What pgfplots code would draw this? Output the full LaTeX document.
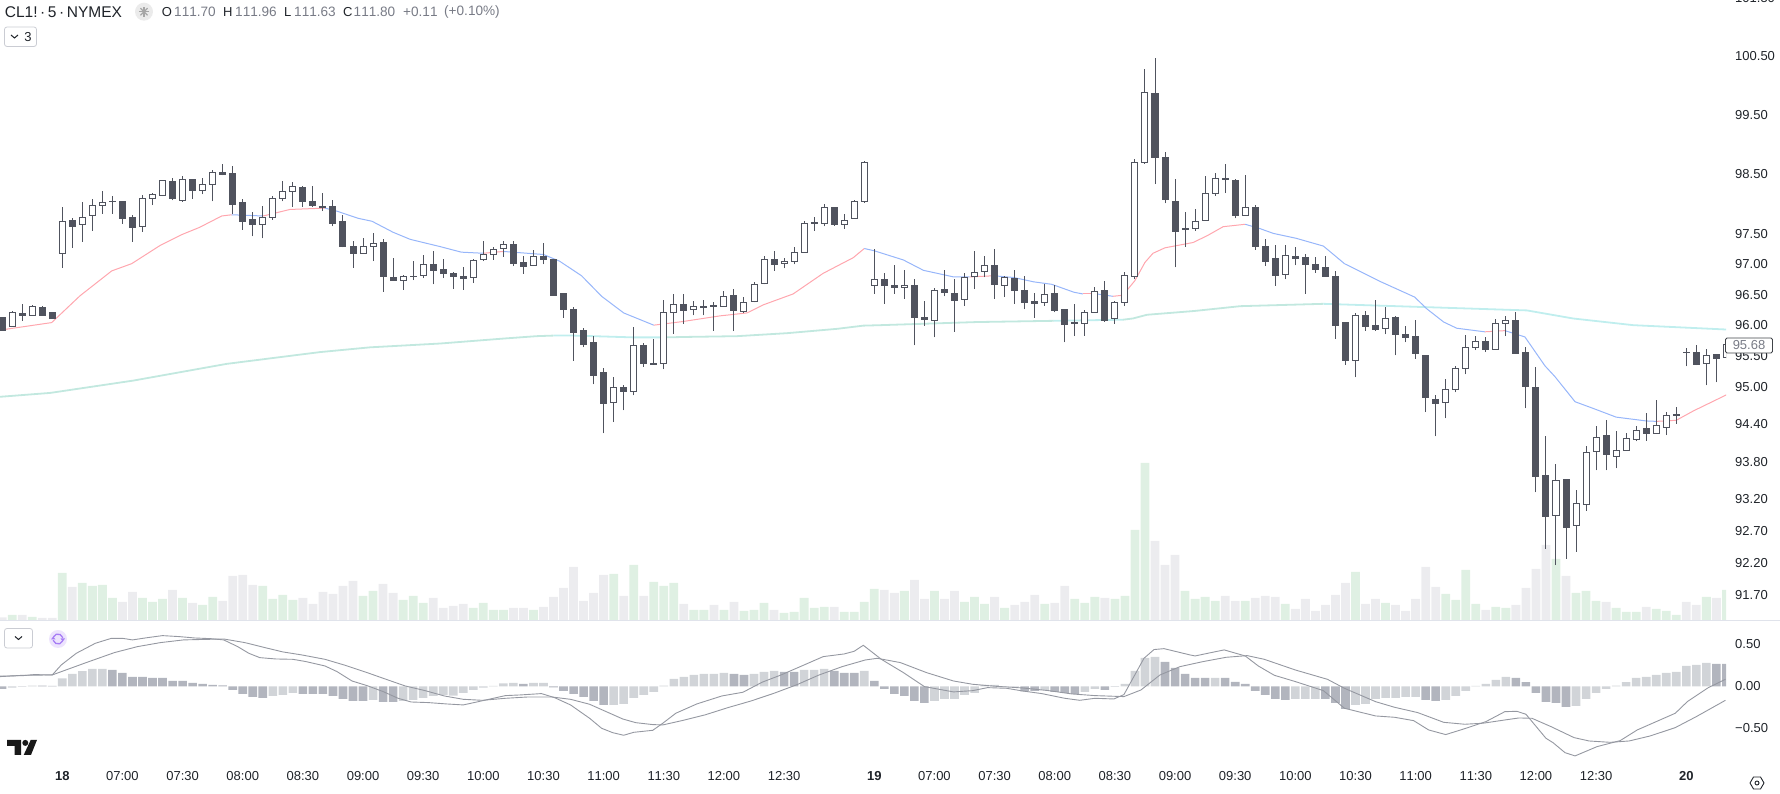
\documentclass[border=0pt]{standalone}
\usepackage{fontspec}
\setmainfont[Kerning=Off]{Liberation Sans}
\usepackage{pgfplots}
\usepackage{pgfplotstable}
\pgfplotsset{compat=1.18}

\definecolor{candle}{HTML}{50535E}
\definecolor{volup}{HTML}{DFF0E3}
\definecolor{voldown}{HTML}{ECECEF}
\definecolor{histlight}{HTML}{D1D4D8}
\definecolor{histdark}{HTML}{B2B5BE}
\definecolor{macdline}{HTML}{9598A1}
\definecolor{emared}{HTML}{FFA6AE}
\definecolor{emablue}{HTML}{97B6FA}
\definecolor{mamint}{HTML}{C2E8DF}
\definecolor{macyan}{HTML}{C0EEEE}
\definecolor{txt}{HTML}{1F2329}
\definecolor{txtgrey}{HTML}{787B86}
\definecolor{sep}{HTML}{E0E3EB}
\definecolor{purple1}{HTML}{EDE4FD}
\definecolor{purple2}{HTML}{A67CF5}

% bar index, open, high, low, close
\pgfplotstableread{
i o h l c
-6 96.12 96.14 95.91 95.92
-5 95.97 96.23 95.97 96.20
-4 96.19 96.35 96.07 96.16
-3 96.16 96.33 96.16 96.30
-2 96.29 96.31 96.16 96.16
-1 96.20 96.20 96.10 96.10
0 97.18 97.94 96.94 97.70
1 97.72 97.77 97.27 97.63
2 97.65 98.03 97.37 97.78
3 97.80 98.08 97.55 97.97
4 97.97 98.22 97.84 98.02
5 98.04 98.14 97.84 98.03
6 98.04 98.05 97.67 97.76
7 97.77 97.82 97.37 97.61
8 97.63 98.15 97.54 98.10
9 98.10 98.19 97.98 98.15
10 98.14 98.39 98.13 98.39
11 98.38 98.43 98.06 98.09
12 98.06 98.47 98.03 98.41
13 98.41 98.42 98.09 98.23
14 98.23 98.43 98.16 98.32
15 98.32 98.56 98.04 98.52
16 98.53 98.67 98.48 98.50
17 98.51 98.63 97.84 97.99
18 98.02 98.09 97.57 97.70
19 97.74 97.86 97.46 97.66
20 97.65 97.97 97.43 97.78
21 97.78 98.13 97.74 98.10
22 98.09 98.38 98.04 98.20
23 98.20 98.36 97.96 98.29
24 98.27 98.30 97.96 98.04
25 98.04 98.29 97.95 97.97
26 97.95 98.19 97.88 97.94
27 97.96 98.06 97.63 97.68
28 97.71 97.82 97.28 97.30
29 97.30 97.39 96.94 97.17
30 97.17 97.43 97.17 97.29
31 97.30 97.51 97.05 97.34
32 97.36 97.41 96.55 96.79
33 96.78 97.10 96.73 96.73
34 96.74 96.83 96.58 96.79
35 96.80 97.05 96.74 96.79
36 96.81 97.15 96.77 96.99
37 96.99 97.21 96.67 96.89
38 96.92 97.08 96.77 96.84
39 96.85 96.87 96.59 96.79
40 96.80 96.95 96.58 96.77
41 96.78 97.08 96.69 97.06
42 97.08 97.39 97.05 97.16
43 97.16 97.29 97.07 97.25
44 97.26 97.38 97.12 97.32
45 97.33 97.38 96.97 97.02
46 97.03 97.13 96.84 96.96
47 96.98 97.24 96.98 97.13
48 97.13 97.36 97.00 97.07
49 97.08 97.08 96.48 96.48
50 96.51 96.52 96.12 96.26
51 96.26 96.30 95.42 95.88
52 95.92 95.95 95.64 95.69
53 95.71 95.82 95.04 95.18
54 95.24 95.30 94.25 94.73
55 94.74 95.15 94.43 94.98
56 94.98 95.03 94.62 94.93
57 94.92 95.97 94.86 95.66
58 95.66 95.71 95.32 95.37
59 95.37 95.78 95.36 95.36
60 95.37 96.41 95.28 96.21
61 96.21 96.51 95.86 96.34
62 96.33 96.51 96.02 96.24
63 96.25 96.39 96.16 96.30
64 96.30 96.41 96.16 96.28
65 96.32 96.37 95.91 96.31
66 96.31 96.56 96.31 96.47
67 96.49 96.59 95.90 96.24
68 96.23 96.46 96.20 96.38
69 96.39 96.70 96.37 96.67
70 96.69 97.13 96.67 97.08
71 97.08 97.22 96.89 96.99
72 97.01 97.11 96.93 97.04
73 97.04 97.28 97.00 97.20
74 97.20 97.71 97.20 97.68
75 97.69 97.78 97.55 97.68
76 97.67 98.00 97.63 97.94
77 97.94 97.96 97.64 97.66
78 97.66 97.84 97.59 97.73
79 97.75 98.06 97.75 98.03
80 98.03 98.72 98.02 98.70
81 96.66 97.26 96.51 96.75
82 96.75 96.86 96.35 96.66
83 96.66 96.98 96.51 96.62
84 96.61 96.90 96.43 96.65
85 96.66 96.75 95.67 96.12
86 96.13 96.40 95.99 96.09
87 96.08 96.60 95.80 96.57
88 96.58 96.90 96.47 96.53
89 96.52 96.75 95.89 96.40
90 96.42 96.85 96.31 96.78
91 96.79 97.22 96.59 96.86
92 96.88 97.13 96.78 96.98
93 96.98 97.25 96.43 96.67
94 96.65 96.81 96.46 96.78
95 96.77 96.90 96.35 96.56
96 96.57 96.80 96.26 96.37
97 96.39 96.53 96.12 96.35
98 96.38 96.67 96.32 96.50
99 96.52 96.66 96.21 96.24
100 96.25 96.25 95.72 96.01
101 96.04 96.35 95.82 96.03
102 96.03 96.25 95.83 96.20
103 96.20 96.62 96.20 96.55
104 96.56 96.73 96.06 96.07
105 96.10 96.39 96.02 96.38
106 96.38 96.88 96.31 96.81
107 96.79 98.75 96.75 98.70
108 98.70 100.28 98.67 99.87
109 99.85 100.46 98.33 98.78
110 98.77 98.87 98.01 98.07
111 98.05 98.42 96.95 97.54
112 97.59 97.86 97.29 97.57
113 97.59 97.91 97.55 97.70
114 97.72 98.46 97.72 98.17
115 98.18 98.52 98.14 98.42
116 98.42 98.67 98.18 98.40
117 98.39 98.41 97.76 97.81
118 97.80 98.48 97.80 97.94
119 97.94 97.98 97.24 97.29
120 97.30 97.42 96.97 97.04
121 97.10 97.32 96.65 96.81
122 96.83 97.32 96.75 97.14
123 97.13 97.28 96.98 97.10
124 97.11 97.17 96.51 96.99
125 97.00 97.12 96.86 96.92
126 96.94 97.13 96.80 96.80
127 96.80 96.89 95.78 96.00
128 96.04 96.05 95.36 95.42
129 95.43 96.20 95.15 96.16
130 96.16 96.23 95.91 95.98
131 96.00 96.41 95.90 95.93
132 95.94 96.30 95.85 96.11
133 96.13 96.15 95.51 95.85
134 95.85 95.98 95.72 95.80
135 95.81 96.09 95.45 95.53
136 95.50 95.51 94.59 94.82
137 94.80 94.87 94.20 94.73
138 94.74 95.13 94.49 94.95
139 94.95 95.34 94.91 95.29
140 95.29 95.84 95.20 95.63
141 95.63 95.83 95.59 95.73
142 95.73 95.81 95.56 95.60
143 95.60 96.10 95.60 96.02
144 96.02 96.15 95.82 96.07
145 96.07 96.21 95.53 95.53
146 95.56 95.65 94.65 95.00
147 94.99 95.32 93.31 93.56
148 93.57 94.21 92.42 92.93
149 92.94 93.76 92.16 93.50
150 93.52 93.52 92.26 92.75
151 92.78 93.34 92.37 93.13
152 93.12 94.04 93.02 93.95
153 93.96 94.37 93.66 94.19
154 94.21 94.46 93.66 93.91
155 93.88 94.28 93.69 93.97
156 93.98 94.26 93.98 94.17
157 94.15 94.37 94.12 94.30
158 94.32 94.58 94.13 94.25
159 94.25 94.79 94.25 94.37
160 94.35 94.59 94.22 94.53
161 94.56 94.68 94.41 94.54
162 95.56 95.63 95.33 95.55
163 95.55 95.67 95.35 95.36
164 95.37 95.62 95.02 95.50
165 95.52 95.53 95.07 95.45
166 95.47 95.75 95.46 95.68
}\candles
\pgfplotstablegetrowsof{\candles}
\pgfmathtruncatemacro{\lastrow}{\pgfplotsretval-1}

\begin{document}
\begin{tikzpicture}
\path[use as bounding box] (0pt,0pt) rectangle (1780pt,794pt);

% volume, behind the price pane
\begin{axis}[
    at={(0pt,174pt)}, anchor=south west,
    scale only axis, width=1726pt, height=200pt,
    xmin=-6.214, xmax=165.96, ymin=0, ymax=600,
    hide axis,
]
\addplot[ybar, bar width=8.8pt, bar shift=0pt, fill=volup, draw=none] coordinates {
(-5,15)(-3,9)(0,141)(2,111)(3,102)(4,105)(5,66)(8,66)(9,54)(10,63)(12,66)(14,45)(15,69)(20,102)(21,63)(22,75)(23,60)
(30,72)(31,87)(34,60)(35,72)(36,51)(41,36)(42,51)(43,30)(44,30)(47,30)(55,138)(57,165)(59,114)(60,102)(61,111)
(63,30)(64,30)(66,30)(68,27)(69,30)(70,51)(72,21)(73,24)(74,66)(75,36)(76,39)(78,24)(79,24)(80,54)(81,93)(84,87)(87,87)
(90,54)(91,69)(92,48)(94,36)(98,48)(101,63)(102,51)(103,69)(105,63)(106,72)(107,270)(108,471)(112,87)(113,63)(114,69)
(115,57)(118,57)(122,48)(129,144)(132,51)(138,78)(139,60)(140,150)(141,48)(143,39)(144,36)(149,183)(151,81)(152,87)
(153,57)(155,36)(156,24)(157,24)(159,33)(160,27)(161,15)(164,69)(166,90)};
\addplot[ybar, bar width=8.8pt, bar shift=0pt, fill=voldown, draw=none] coordinates {
(-6,8)(-4,15)(-2,6)(-1,6)(1,99)(6,54)(7,84)(11,90)(13,51)(16,57)(17,132)(18,135)(19,105)(24,66)(25,48)(26,84)(27,78)
(28,102)(29,117)(32,108)(33,81)(37,66)(38,36)(39,42)(40,48)(45,36)(46,36)(48,39)(49,69)(50,96)(51,159)(52,57)(53,81)
(54,135)(56,72)(58,72)(62,48)(65,45)(67,54)(71,30)(77,39)(82,90)(83,81)(85,120)(86,63)(88,63)(89,87)(93,69)(95,45)
(96,54)(97,75)(99,51)(100,102)(104,66)(109,237)(110,165)(111,195)(116,72)(117,57)(119,66)(120,72)(121,69)(123,33)
(124,63)(125,27)(126,45)(127,75)(128,111)(130,48)(131,63)(133,45)(134,27)(135,63)(136,159)(137,99)(142,30)(145,45)
(146,96)(147,153)(148,225)(150,132)(154,54)(158,39)(162,54)(163,45)(165,66)};
\end{axis}

% price pane, log price scale
\begin{axis}[
    at={(0pt,174pt)}, anchor=south west,
    scale only axis, width=1726pt, height=620pt,
    y coord trafo/.code={\pgfmathparse{1000*ln(#1)}},
    y coord inv trafo/.code={\pgfmathparse{exp(#1/1000)}},
    xmin=-6.214, xmax=165.96, ymin=91.306, ymax=101.466,
    axis line style={draw=none}, major tick length=0pt,
    xtick=\empty,
    ytick={100.5,99.5,98.5,97.5,97,96.5,96,95.5,95,94.4,93.8,93.2,92.7,92.2,91.7},
    yticklabels={100.50,99.50,98.50,97.50,97.00,96.50,96.00,95.50,95.00,94.40,93.80,93.20,92.70,92.20,91.70},
    yticklabel pos=right,
    yticklabel style={anchor=west, inner xsep=0pt, xshift=9pt, text=txt, font=\fontsize{13}{15}\selectfont},
]
% long moving average
\addplot[mamint, line width=1.8pt] coordinates {(-6.2,94.84)(-1.2,94.90)(7.1,95.10)(16.4,95.37)(25.7,95.56)(30.7,95.64)(37.7,95.70)(44,95.78)(47.3,95.82)(49,95.83)};
\addplot[macyan, line width=1.8pt] coordinates {(49,95.83)(51,95.83)(57,95.80)(60,95.80)};
\addplot[mamint, line width=1.8pt] coordinates {(60,95.80)(62.3,95.81)(67.3,95.82)(72.3,95.87)(77.3,95.94)(79.9,95.99)(81.6,96.00)(91.2,96.05)(98.9,96.07)};
\addplot[macyan, line width=1.8pt] coordinates {(98.9,96.07)(105.8,96.09)};
\addplot[mamint, line width=1.8pt] coordinates {(105.8,96.09)(106.8,96.11)(108.2,96.17)(112.9,96.23)(117.5,96.31)(125.8,96.35)};
\addplot[macyan, line width=1.8pt] coordinates {(125.8,96.35)(135.1,96.30)(146.1,96.24)(150.7,96.11)(156.7,96.00)(166,95.93)};
% short moving average, red above price, blue below
\addplot[emared, line width=1pt] coordinates {(-6.2,95.92)(-1.06,96.04)(1.77,96.48)(4.93,96.89)(6.92,97.01)(9.75,97.31)(11.9,97.49)(13.7,97.61)(15.9,97.80)(16.9,97.82)};
\addplot[emablue, line width=1pt] coordinates {(16.9,97.82)(20.05,97.80)};
\addplot[emared, line width=1pt] coordinates {(20.05,97.80)(22.7,97.91)(26.2,97.93)};
\addplot[emablue, line width=1pt] coordinates {(26.2,97.93)(27.4,97.88)(29.5,97.76)(30.9,97.71)(33.0,97.53)(34.7,97.41)(37.7,97.29)(39.8,97.20)(42.0,97.18)};
\addplot[emared, line width=1pt] coordinates {(42.0,97.18)(44.0,97.21)};
\addplot[emablue, line width=1pt] coordinates {(44.0,97.21)(48.0,97.16)(49.6,97.05)(51.8,96.81)(53.8,96.47)(56.0,96.20)(59.0,96.00)};
\addplot[emared, line width=1pt] coordinates {(59,96.00)(61.9,96.06)(65.6,96.15)(68.3,96.20)(69.9,96.33)(72.9,96.51)(75.9,96.85)(78.9,97.11)(80.0,97.26)};
\addplot[emablue, line width=1pt] coordinates {(80,97.26)(81,97.22)(83.9,97.07)(85.9,96.90)(88.9,96.79)(90.5,96.79)};
\addplot[emared, line width=1pt] coordinates {(90.5,96.79)(92.9,96.81)};
\addplot[emablue, line width=1pt] coordinates {(92.9,96.81)(94.9,96.78)(96.9,96.71)(98.7,96.67)(100.9,96.54)(101.8,96.51)};
\addplot[emared, line width=1pt] coordinates {(101.8,96.51)(103.2,96.51)};
\addplot[emablue, line width=1pt] coordinates {(103.2,96.51)(104.8,96.47)};
\addplot[emared, line width=1pt] coordinates {(104.8,96.47)(105.8,96.49)(107.0,96.73)(108.0,97.03)(108.8,97.18)(110.0,97.27)(112.8,97.36)(114.2,97.47)(115.8,97.62)(118.0,97.66)};
\addplot[emablue, line width=1pt] coordinates {(118,97.66)(119.5,97.59)(120.8,97.51)(123.1,97.43)(125.8,97.30)(127.9,97.01)(131.4,96.72)(134.9,96.46)(136.1,96.27)(137.8,96.05)(139.1,95.95)(141.9,95.89)};
\addplot[emared, line width=1pt] coordinates {(141.9,95.89)(143.9,95.91)};
\addplot[emablue, line width=1pt] coordinates {(143.9,95.91)(145.9,95.81)(147.9,95.34)(148.9,95.16)(150.9,94.76)(152.7,94.65)(155.0,94.51)(158.0,94.45)(159.0,94.44)};
\addplot[emared, line width=1pt] coordinates {(159,94.44)(161.0,94.46)(162.7,94.61)(166.0,94.87)};
% candles
\foreach \r in {0,...,\lastrow}{
    \pgfplotstablegetelem{\r}{i}\of\candles \let\ci\pgfplotsretval
    \pgfplotstablegetelem{\r}{o}\of\candles \let\co\pgfplotsretval
    \pgfplotstablegetelem{\r}{h}\of\candles \let\ch\pgfplotsretval
    \pgfplotstablegetelem{\r}{l}\of\candles \let\cl\pgfplotsretval
    \pgfplotstablegetelem{\r}{c}\of\candles \let\cc\pgfplotsretval
    \pgfmathsetmacro\xl{\ci-0.3}
    \pgfmathsetmacro\xr{\ci+0.3}
    \ifdim\cc pt<\co pt \def\cfill{candle}\else\def\cfill{white}\fi
    \edef\temp{
        \noexpand\addplot[candle, line width=1pt] coordinates {(\ci,\cl)(\ci,\ch)};
        \noexpand\addplot[draw=candle, fill=\cfill, line width=1pt] coordinates {(\xl,\co)(\xr,\co)(\xr,\cc)(\xl,\cc)} -- cycle;
    }
    \temp
}
\end{axis}

% MACD pane
\begin{axis}[
    at={(0pt,30pt)}, anchor=south west,
    scale only axis, width=1726pt, height=143pt,
    xmin=-6.214, xmax=165.96, ymin=-0.925, ymax=0.777,
    axis line style={draw=none}, major tick length=0pt,
    ytick={0.5,0,-0.5}, yticklabels={0.50,0.00,−0.50},
    yticklabel pos=right,
    yticklabel style={anchor=west, inner xsep=0pt, xshift=9pt, text=txt, font=\fontsize{13}{15}\selectfont},
    xtick={0,6,12,18,24,30,36,42,48,54,60,66,72,81,87,93,99,105,111,117,123,129,135,141,147,153,162},
    xticklabels={\textbf{18},07:00,07:30,08:00,08:30,09:00,09:30,10:00,10:30,11:00,11:30,12:00,12:30,
                 \textbf{19},07:00,07:30,08:00,08:30,09:00,09:30,10:00,10:30,11:00,11:30,12:00,12:30,\textbf{20}},
    xticklabel style={anchor=center, yshift=-12pt, text=txt, font=\fontsize{13}{15}\selectfont},
]
\addplot[ybar, bar width=8.6pt, bar shift=0pt, fill=histlight, draw=none] coordinates {
(-5,-.016)(-3,.008)(0,.095)(1,.147)(2,.179)(3,.206)(4,.206)(21,-.115)(22,-.103)(23,-.079)(31,-.163)(34,-.175)(35,-.163)
(36,-.139)(37,-.115)(38,-.103)(39,-.111)(40,-.079)(41,-.044)(42,-.016)(43,.004)(44,.036)(45,.04)(47,.04)(48,.04)
(55,-.222)(56,-.21)(57,-.139)(58,-.103)(59,-.067)(60,.008)(61,.087)(62,.111)(63,.135)(64,.147)(65,.147)(66,.159)(69,.147)
(70,.171)(71,.183)(74,.194)(75,.194)(76,.206)(80,.183)(87,-.175)(88,-.151)(89,-.151)(90,-.103)(91,-.079)(92,.016)(93,.016)
(98,-.044)(102,-.067)(103,-.032)(105,-.008)(106,.028)(107,.183)(108,.337)(109,.349)(115,.099)(123,-.151)(124,-.151)(125,-.151)
(129,-.222)(130,-.21)(131,-.151)(132,-.139)(133,-.139)(134,-.127)(135,-.127)(138,-.163)(139,-.115)(140,-.056)(141,.004)
(142,.028)(143,.075)(144,.111)(151,-.234)(152,-.151)(153,-.079)(154,-.032)(155,.008)(156,.048)(157,.099)(158,.111)(159,.135)
(160,.159)(161,.171)(162,.242)(163,.254)(164,.278)};
\addplot[ybar, bar width=8.6pt, bar shift=0pt, fill=histdark, draw=none] coordinates {
(-6,-.032)(-4,-.004)(-2,.008)(-1,.004)(5,.194)(6,.159)(7,.111)(8,.111)(9,.099)(10,.099)(11,.063)(12,.063)(13,.04)(14,.028)
(15,.016)(16,.012)(17,-.044)(18,-.091)(19,-.127)(20,-.139)(24,-.091)(25,-.091)(26,-.091)(27,-.115)(28,-.151)(29,-.175)(30,-.175)
(32,-.187)(33,-.187)(46,.028)(49,-.012)(50,-.056)(51,-.091)(52,-.127)(53,-.175)(54,-.222)(67,.147)(68,.135)(72,.171)(73,.171)
(77,.183)(78,.159)(79,.159)(81,.063)(82,-.032)(83,-.091)(84,-.115)(85,-.175)(86,-.198)(94,-.004)(95,-.004)(96,-.06)(97,-.056)
(99,-.067)(100,-.079)(101,-.091)(104,-.044)(110,.29)(111,.218)(112,.147)(113,.099)(114,.099)(116,.099)(117,.052)(118,.028)
(119,-.056)(120,-.103)(121,-.151)(122,-.163)(126,-.151)(127,-.198)(128,-.27)(136,-.163)(137,-.175)(145,.099)(146,.048)
(147,-.079)(148,-.187)(149,-.198)(150,-.246)(165,.266)(166,.266)};
% signal
\addplot[macdline, line width=.9pt] coordinates {
(-6.2,.115)(-3.9,.131)(-1,.135)(2.2,.274)(5.2,.401)(7.5,.472)(9.8,.52)(12.1,.552)(16.1,.563)(18.2,.52)(20.5,.452)(22,.409)
(23.9,.373)(26.2,.321)(28.1,.254)(30.4,.163)(32.3,.083)(34.2,.004)(36.2,-.052)(38.1,-.115)(40,-.155)(41.9,-.167)(44.2,-.143)
(46.5,-.127)(48.8,-.127)(50.7,-.155)(52.6,-.214)(55.9,-.389)(57.2,-.433)(58.9,-.456)(59.9,-.46)(61.8,-.409)(64.1,-.341)
(66.4,-.254)(68.7,-.175)(71,-.083)(73.3,.02)(75.5,.135)(77.8,.234)(80.1,.313)(81.3,.333)(83.6,.282)(86.2,.163)(88.9,.063)
(90.8,.024)(93.1,0)(95.8,-.02)(98.4,-.052)(100.7,-.091)(103,-.111)(105.9,-.123)(107.6,-.044)(109.5,.135)(111.5,.234)(113.8,.294)
(116.1,.345)(118.2,.365)(119.9,.321)(123,.194)(126.2,.083)(127.9,-.024)(131,-.183)(132.9,-.25)(135.2,-.313)(137.8,-.429)
(139.9,-.452)(141.7,-.44)(143.9,-.401)(145.3,-.377)(146.6,-.381)(148.5,-.48)(150.8,-.611)(152.3,-.651)(154.4,-.667)(156.3,-.651)
(158.4,-.591)(160.9,-.492)(163,-.361)(165.9,-.167)};
% MACD
\addplot[macdline, line width=.9pt] coordinates {
(-6.2,.12)(-3.9,.127)(-2.8,.139)(-1,.135)(-.1,.254)(1.4,.393)(3.3,.512)(4.9,.571)(6,.571)(7,.552)(8.5,.579)(10,.603)(11.7,.591)
(13.2,.575)(14.8,.567)(16.1,.552)(17.5,.472)(18.6,.393)(19.7,.341)(21.3,.325)(23,.321)(24.3,.294)(26.2,.242)(27.4,.175)(28.9,.063)
(30.4,.008)(32,-.063)(33.5,-.143)(34.8,-.187)(36.5,-.194)(38.3,-.21)(40,-.222)(41.5,-.183)(43,-.143)(44.2,-.111)(45.7,-.103)
(47.8,-.087)(49.1,-.135)(50.7,-.222)(52.6,-.381)(53.8,-.5)(54.9,-.552)(56,-.583)(57,-.548)(58.9,-.524)(59.9,-.44)(61.2,-.321)
(63.3,-.21)(65.8,-.115)(67.9,-.071)(69.8,.048)(71.7,.135)(74,.254)(75.9,.353)(78,.385)(79,.417)(79.9,.488)(81.7,.321)(83.9,.163)
(86,-.004)(88.9,-.067)(90.8,-.052)(92.3,-.016)(94.2,-.024)(95.8,-.056)(97.7,-.087)(100,-.143)(101.5,-.167)(103,-.143)(104.9,-.151)
(105.9,-.099)(106.8,.095)(107.9,.333)(108.9,.437)(109.9,.448)(112.5,.373)(113,.361)(114.6,.401)(115.9,.433)(118,.361)(119.3,.242)
(120.9,.131)(123,.056)(125.8,-.052)(127.9,-.262)(131,-.353)(132.9,-.369)(134.8,-.409)(136.3,-.52)(138,-.575)(139.7,-.512)(142,-.421)
(143.9,-.302)(145.1,-.298)(146,-.333)(148,-.619)(148.7,-.671)(149.9,-.79)(150.9,-.829)(153.1,-.718)(155.4,-.647)(157.1,-.52)
(160.9,-.321)(162.1,-.183)(164.2,-.016)(165.9,.083)};
\end{axis}

% chart chrome, in pixel coordinates of the screenshot
\begin{scope}[x=1pt, y=-1pt, yshift=794pt, every node/.style={inner sep=0pt, text=txt}]
\draw[sep, line width=1pt] (0,620.5) -- (1780,620.5);
\node[anchor=west, font=\fontsize{13}{15}\selectfont] at (1735,-2) {101.50};
\node[anchor=west, font=\fontsize{15.5}{18}\selectfont] at (4.7,11.7) {CL1!\,·\,5\,·\,NYMEX};
\fill[black!8] (144,11.7) circle (9);
\foreach \a in {0,45,90,135}
    \draw[black!35, line width=1.3pt] ([shift={(144,11.7)}]\a:5) -- ([shift={(144,11.7)}]\a+180:5);
\foreach \x/\l in {161.7/O,223/H,284/L,343/C}
    \node[anchor=west, font=\fontsize{13}{15}\selectfont] at (\x,11.7) {\l};
\foreach \x/\l in {174/111.70,235/111.96,294/111.63,353.5/111.80,403/+0.11,444/(+0.10\%)}
    \node[anchor=west, text=txtgrey, font=\fontsize{13.6}{15}\selectfont] at (\x,11.7) {\l};
\draw[sep!90!black, line width=.8pt, rounded corners=2.5pt] (4.5,27) rectangle (36.5,46.5);
\draw[txt, line width=1pt] (11,35) -- (14.5,38) -- (18,35);
\node[font=\fontsize{13}{15}\selectfont] at (28,37.3) {3};
\draw[sep!90!black, line width=.8pt, rounded corners=2.5pt] (4.5,628.5) rectangle (32.5,648);
\draw[txt, line width=1pt] (15,636.5) -- (18.5,639.5) -- (22,636.5);
\fill[purple1] (58,639) circle (9);
\draw[purple2, line width=1.3pt] ([shift={(58,639)}]25:5) arc (25:165:5);
\draw[purple2, line width=1.3pt] ([shift={(58,639)}]205:5) arc (205:345:5);
\fill[purple2] (51,639.5) -- (55.5,639.5) -- (53.2,636.5) -- cycle;
\fill[purple2] (60.5,638.5) -- (65,638.5) -- (62.8,641.5) -- cycle;
% logo
\fill[black!90] (7,740) -- (21,740) -- (21,755) -- (14.5,755) -- (14.5,746) -- (7,746) -- cycle;
\fill[black!90] (25.3,742.9) circle (3);
\fill[black!90] (30.7,740) -- (37,740) -- (31,755) -- (23.7,755) -- cycle;
% settings icon
\draw[txt, line width=.9pt, line join=round] (1750,783) -- (1753.5,777) -- (1760.5,777) -- (1764,783) -- (1760.5,789) -- (1753.5,789) -- cycle;
\draw[txt, line width=.9pt] (1757,783) circle (2);
% last price
\node[draw=txt!85, line width=.8pt, rounded corners=1.5pt, fill=white, text=txtgrey, minimum width=47pt, minimum height=15pt, font=\fontsize{13}{15}\selectfont] at (1749,345.5) {95.68};
\end{scope}
\end{tikzpicture}
\end{document}
